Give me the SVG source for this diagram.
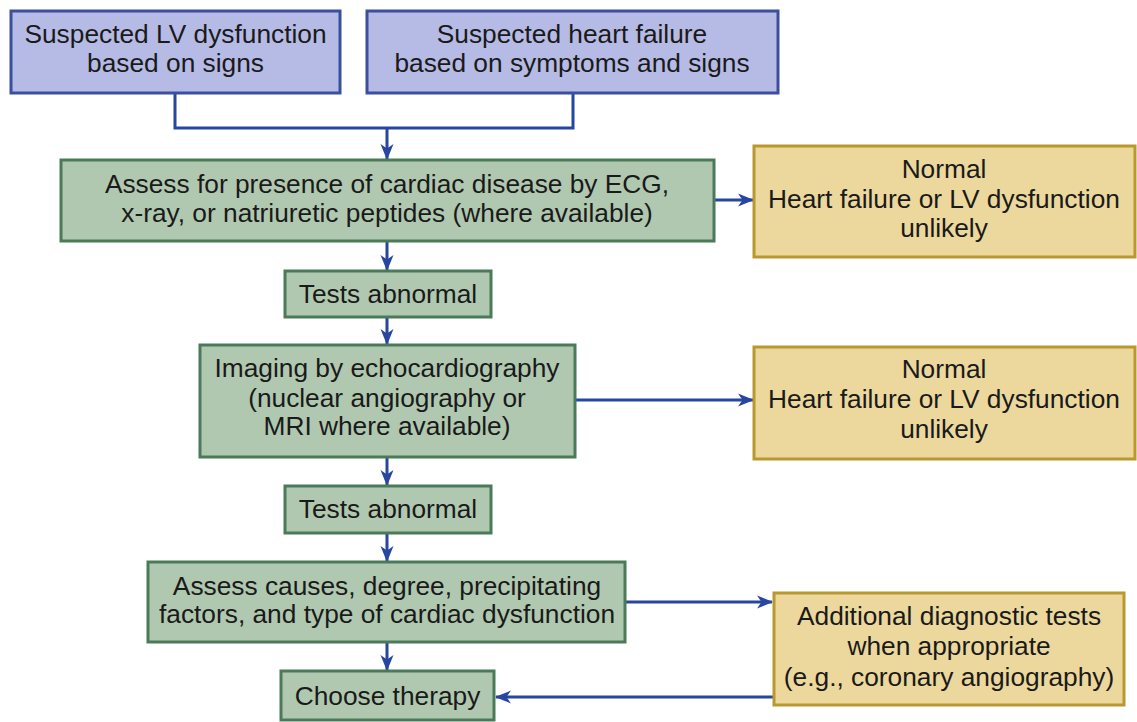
<svg xmlns="http://www.w3.org/2000/svg" width="1137" height="722" viewBox="0 0 1137 722">
<defs>
<style>
.blue{fill:#b6bbe5;stroke:#3a4f9e;stroke-width:3}
.green{fill:#b0c8b0;stroke:#4a7a58;stroke-width:3}
.yellow{fill:#ecd89c;stroke:#b8982f;stroke-width:3}
text{font-family:"Liberation Sans",Arial,sans-serif;font-size:26.3px;fill:#1a1a1a;text-anchor:middle}
.conn{fill:none;stroke:#2646a0;stroke-width:3}
</style>
<marker id="ah" markerUnits="userSpaceOnUse" markerWidth="16" markerHeight="16" viewBox="0 0 16 16" refX="15" refY="8" orient="auto">
<path d="M0,1.5 L16,8 L0,14.5 L4.5,8 Z" fill="#2646a0"/>
</marker>
</defs>
<rect width="1137" height="722" fill="#ffffff"/>
<g id="connectors">
<path class="conn" d="M175 93 V128 H573 V93"/>
<path class="conn" d="M387 128 V159" marker-end="url(#ah)"/>
<path class="conn" d="M714 200 H753" marker-end="url(#ah)"/>
<path class="conn" d="M387 241 V270" marker-end="url(#ah)"/>
<path class="conn" d="M387 317 V344" marker-end="url(#ah)"/>
<path class="conn" d="M575 400 H753" marker-end="url(#ah)"/>
<path class="conn" d="M387 457 V485" marker-end="url(#ah)"/>
<path class="conn" d="M387 533 V561" marker-end="url(#ah)"/>
<path class="conn" d="M625 602 H772" marker-end="url(#ah)"/>
<path class="conn" d="M387 642 V670" marker-end="url(#ah)"/>
<path class="conn" d="M774 697 H496" marker-end="url(#ah)"/>
</g>
<g id="n1">
<rect class="blue" x="11" y="11" width="329" height="82"/>
<text x="175.5" y="43">Suspected LV dysfunction</text>
<text x="175.5" y="72">based on signs</text>
</g>
<g id="n2">
<rect class="blue" x="367" y="11" width="411" height="82"/>
<text x="572" y="43">Suspected heart failure</text>
<text x="572" y="72">based on symptoms and signs</text>
</g>
<g id="n3">
<rect class="green" x="61" y="160" width="653" height="81"/>
<text x="387" y="193">Assess for presence of cardiac disease by ECG,</text>
<text x="387" y="222">x-ray, or natriuretic peptides (where available)</text>
</g>
<g id="n4">
<rect class="yellow" x="754" y="146" width="381" height="111"/>
<text x="944" y="178">Normal</text>
<text x="944" y="208">Heart failure or LV dysfunction</text>
<text x="944" y="237">unlikely</text>
</g>
<g id="n5">
<rect class="green" x="285" y="271" width="206" height="46"/>
<text x="388" y="303">Tests abnormal</text>
</g>
<g id="n6">
<rect class="green" x="200" y="345" width="375" height="112"/>
<text x="387" y="377">Imaging by echocardiography</text>
<text x="387" y="407">(nuclear angiography or</text>
<text x="387" y="435">MRI where available)</text>
</g>
<g id="n7">
<rect class="yellow" x="754" y="347" width="381" height="112"/>
<text x="944" y="378">Normal</text>
<text x="944" y="408">Heart failure or LV dysfunction</text>
<text x="944" y="438">unlikely</text>
</g>
<g id="n8">
<rect class="green" x="285" y="486" width="206" height="47"/>
<text x="388" y="518">Tests abnormal</text>
</g>
<g id="n9">
<rect class="green" x="148" y="562" width="477" height="80"/>
<text x="387" y="595">Assess causes, degree, precipitating</text>
<text x="387" y="623">factors, and type of cardiac dysfunction</text>
</g>
<g id="n10">
<rect class="yellow" x="774" y="593" width="350" height="112"/>
<text x="949" y="625">Additional diagnostic tests</text>
<text x="949" y="655">when appropriate</text>
<text x="949" y="686">(e.g., coronary angiography)</text>
</g>
<g id="n11">
<rect class="green" x="281" y="671" width="213" height="49"/>
<text x="387.5" y="705">Choose therapy</text>
</g>
</svg>
